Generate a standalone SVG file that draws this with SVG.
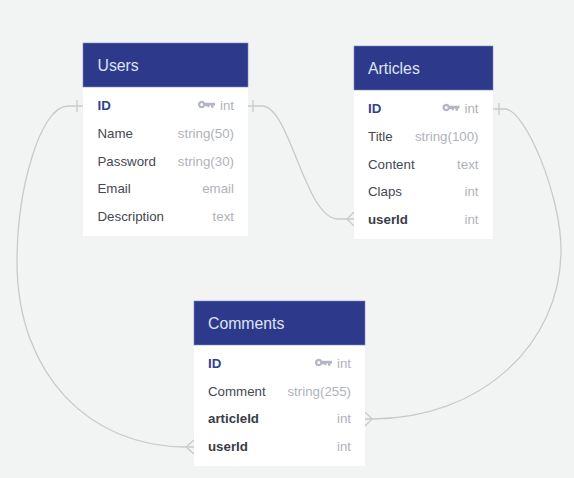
<svg xmlns="http://www.w3.org/2000/svg" width="574" height="478" viewBox="0 0 574 478">
<style>
text{font-family:"Liberation Sans",Arial,sans-serif;font-size:13.3px}
.bg{fill:#f2f4f4}
.body{fill:#fff}
.head{fill:#2d3a8c;stroke:#7c86bd;stroke-width:.6}
.title{fill:#dfe3f3;font-size:15.8px}
.n{fill:#454852}
.b{fill:#3a3d46;font-weight:bold}
.pk{fill:#323f8f;font-weight:bold}
.t{fill:#b0b3ba;text-anchor:end}
.key{fill:#b3b6c4}
.c{fill:none;stroke:#c8caca;stroke-width:1.3}
</style>
<defs>
<g id="k"><path class="key" fill-rule="evenodd" d="M0 0a3.700 3.700 0 0 1 7-1.700H17V1H15.500V3.200H13V1H11.500V2.700H9.500V1.700H7A3.700 3.700 0 0 1 0 0ZM2.200 0a1.500 1.500 0 1 0 3 0a1.500 1.500 0 1 0-3 0Z"/></g>
</defs>
<rect class="bg" width="574" height="478"/>
<g id="connectors">
<path class="c" d="M83 106H68C40 106 17 190 17 262C17 375 90 447 186 447H194"/>
<path class="c" d="M77 100V112M186 447L194 440M186 447L194 454"/>
<path class="c" d="M248 106H262C290 106 305 219 338 219H354"/>
<path class="c" d="M253 100V112M347 219L354 212M347 219L354 226"/>
<path class="c" d="M493 109H505C525 109 561 195 561 250C561 345 480 419 372 419H365"/>
<path class="c" d="M499 103V115M372 419L365 412M372 419L365 426"/>
</g>
<g id="users">
<rect class="body" x="83" y="87" width="165" height="149"/>
<rect class="head" x="83" y="43" width="165" height="44"/>
<text class="title" x="97.500" y="70.500">Users</text>
<text class="pk" x="97.500" y="110">ID</text><use href="#k" x="198" y="104.500"/><text class="t" x="234" y="110">int</text>
<text class="n" x="97.500" y="138">Name</text><text class="t" x="234" y="138">string(50)</text>
<text class="n" x="97.500" y="166">Password</text><text class="t" x="234" y="166">string(30)</text>
<text class="n" x="97.500" y="193">Email</text><text class="t" x="234" y="193">email</text>
<text class="n" x="97.500" y="221">Description</text><text class="t" x="234" y="221">text</text>
</g>
<g id="articles">
<rect class="body" x="354" y="90" width="139" height="149"/>
<rect class="head" x="354" y="46" width="139" height="44"/>
<text class="title" x="368" y="73.500">Articles</text>
<text class="pk" x="368" y="113">ID</text><use href="#k" x="442.500" y="107.500"/><text class="t" x="478.500" y="113">int</text>
<text class="n" x="368" y="141">Title</text><text class="t" x="478.500" y="141">string(100)</text>
<text class="n" x="368" y="169">Content</text><text class="t" x="478.500" y="169">text</text>
<text class="n" x="368" y="196">Claps</text><text class="t" x="478.500" y="196">int</text>
<text class="b" x="368" y="224">userId</text><text class="t" x="478.500" y="224">int</text>
</g>
<g id="comments">
<rect class="body" x="194" y="345" width="171" height="121"/>
<rect class="head" x="194" y="301" width="171" height="44"/>
<text class="title" x="208" y="328.500">Comments</text>
<text class="pk" x="208" y="368">ID</text><use href="#k" x="315" y="362.500"/><text class="t" x="351" y="368">int</text>
<text class="n" x="208" y="396">Comment</text><text class="t" x="351" y="396">string(255)</text>
<text class="b" x="208" y="423">articleId</text><text class="t" x="351" y="423">int</text>
<text class="b" x="208" y="451">userId</text><text class="t" x="351" y="451">int</text>
</g>
</svg>
